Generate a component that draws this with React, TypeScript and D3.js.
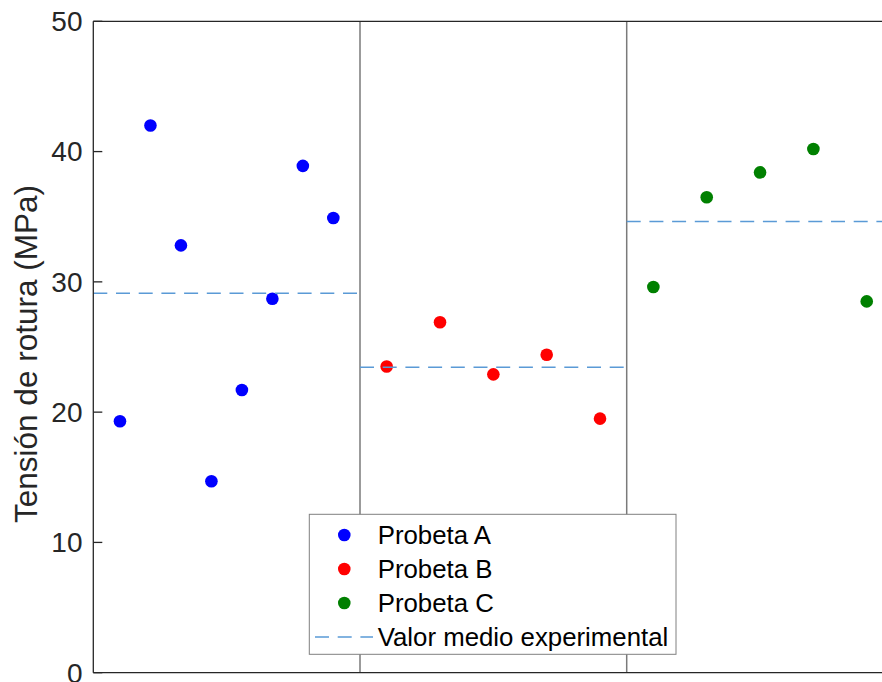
import React from "react";
import * as d3 from "d3";

const groups = ["Probeta A", "Probeta B", "Probeta C"];
const colors = ["#0000ff", "#ff0000", "#008000"];
const valuesA = [19.3, 42.0, 32.8, 14.7, 21.7, 28.7, 38.9, 34.9];
const valuesB = [23.5, 26.9, 22.9, 24.4, 19.5];
const valuesC = [29.6, 36.5, 38.4, 40.2, 28.5];
const yTicks = [0, 10, 20, 30, 40, 50];
const meanLabel = "Valor medio experimental";
const yLabel = "Tensión de rotura (MPa)";

const W = 882;
const H = 682;
const left = 93.3;
const top = 21.3;
const bottom = 672.7;
const sectionW = 266.7;
const FONT = "'Liberation Sans', Arial, Helvetica, sans-serif";

export default function App() {
  const series = [valuesA, valuesB, valuesC];
  const x = d3.scaleLinear().domain([0, 3]).range([left, left + 3 * sectionW]);
  const y = d3.scaleLinear().domain([0, 50]).range([bottom, top]);
  const dashColor = "#5a9ad6";

  const pts = series.map((vals, g) =>
    vals.map((v, i) => {
      const n = vals.length;
      const pos = g + 0.1 + (0.8 * i) / (n - 1);
      return { cx: x(pos), cy: y(v) };
    })
  );
  const means = series.map((vals) => d3.mean(vals) as number);

  const legX = 309.3;
  const legY = 514.3;
  const legW = 366.7;
  const legH = 140;
  const rowY = [535, 569, 603, 637];

  return (
    <svg
      width={W}
      height={H}
      style={{ position: "absolute", left: 0, top: 0, background: "#fff" }}
      fontFamily={FONT}
    >
      <rect x={0} y={0} width={W} height={H} fill="#fff" />
      {/* dividers */}
      {[1, 2].map((d) => (
        <line
          key={d}
          x1={x(d)}
          x2={x(d)}
          y1={top}
          y2={bottom}
          stroke="#7a7a7a"
          strokeWidth={1.5}
        />
      ))}
      {/* points */}
      {pts.map((arr, g) =>
        arr.map((p, i) => (
          <circle key={`${g}-${i}`} cx={p.cx} cy={p.cy} r={6.3} fill={colors[g]} />
        ))
      )}
      {/* mean lines */}
      {means.map((m, g) => (
        <line
          key={g}
          x1={x(g)}
          x2={x(g + 1)}
          y1={y(m)}
          y2={y(m)}
          stroke={dashColor}
          strokeWidth={1.5}
          strokeDasharray="14 8.7"
        />
      ))}
      {/* axes box */}
      <line x1={left} x2={W} y1={top} y2={top} stroke="#262626" strokeWidth={1.3} />
      <line x1={left} x2={W} y1={bottom} y2={bottom} stroke="#262626" strokeWidth={1.3} />
      <line x1={left} x2={left} y1={top} y2={bottom} stroke="#262626" strokeWidth={1.3} />
      {yTicks.map((t) => (
        <g key={t}>
          <line x1={left} x2={left + 9} y1={y(t)} y2={y(t)} stroke="#262626" strokeWidth={1.3} />
          <text
            x={82.5}
            y={y(t)}
            dy="0.35em"
            textAnchor="end"
            fontSize={28}
            fill="#262626"
          >
            {t}
          </text>
        </g>
      ))}
      <text
        transform={`translate(37, 354) rotate(-90)`}
        textAnchor="middle"
        fontSize={31.5}
        fill="#262626"
      >
        {yLabel}
      </text>
      {/* legend */}
      <rect x={legX} y={legY} width={legW} height={legH} fill="#fff" stroke="#808080" strokeWidth={1} />
      {groups.map((gname, g) => (
        <g key={gname}>
          <circle cx={344.3} cy={rowY[g]} r={6.3} fill={colors[g]} />
          <text x={377.7} y={rowY[g]} dy="0.35em" fontSize={25.8} fill="#000">
            {gname}
          </text>
        </g>
      ))}
      <line
        x1={315}
        x2={373}
        y1={rowY[3]}
        y2={rowY[3]}
        stroke={dashColor}
        strokeWidth={1.5}
        strokeDasharray="14 8.7"
      />
      <text x={377.7} y={rowY[3]} dy="0.35em" fontSize={25.8} fill="#000">
        {meanLabel}
      </text>
    </svg>
  );
}
